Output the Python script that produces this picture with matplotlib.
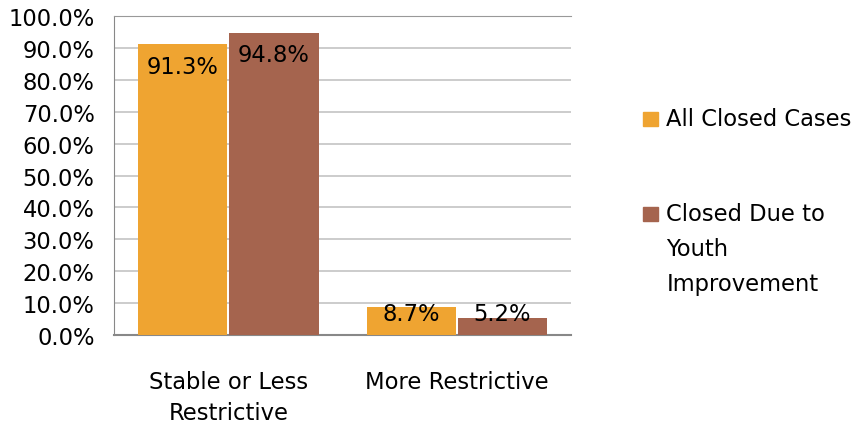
import matplotlib.pyplot as plt
from matplotlib.patches import Rectangle
import numpy as np

categories = ['Stable or Less\nRestrictive', 'More Restrictive']
series_names = ['All Closed Cases', 'Closed Due to\nYouth\nImprovement']
all_closed = [91.3, 8.7]
youth_improved = [94.8, 5.2]
colors = ['#EFA431', '#A5644E']

plt.rcParams['font.family'] = ['DejaVu Sans']
fs = 16.3

fig = plt.figure(figsize=(8.62, 4.27), dpi=100)
ax = fig.add_axes([0.1323, 0.2131, 0.5301, 0.7469])

x = np.arange(len(categories))
w = 0.39
gap = 0.005
for i, vals in enumerate([all_closed, youth_improved]):
    pos = x + (i - 0.5) * (w + 2 * gap)
    ax.bar(pos, vals, width=w, color=colors[i], zorder=3)
    for p, v in zip(pos, vals):
        ly = max(v - 7, 6.9)
        ax.text(p, ly, '%.1f%%' % v, ha='center', va='center', fontsize=fs, color='black', zorder=4)

ax.set_xlim(-0.5, 1.5)
ax.set_ylim(0, 100)
ax.set_yticks(np.arange(0, 101, 10))
ax.set_yticklabels(['%.1f%%' % t for t in np.arange(0, 101, 10)], fontsize=fs)
ax.set_xticks(x)
ax.set_xticklabels(categories, fontsize=fs, linespacing=1.45)
ax.tick_params(length=0)
ax.tick_params(axis='y', pad=14)
ax.tick_params(axis='x', pad=25)
ax.yaxis.grid(True, color='#c4c4c4', linewidth=1.2, zorder=0)
ax.spines['right'].set_visible(False)
ax.spines['top'].set_color('#999999')
ax.spines['left'].set_color('#888888')
ax.spines['bottom'].set_color('#888888')
ax.spines['bottom'].set_linewidth(1.5)

# legend drawn by hand so the swatch lines up with the first text line
legend_tops = [0.741, 0.518]
for name, c, top in zip(series_names, colors, legend_tops):
    fig.patches.append(Rectangle((0.746, top - 0.038), 0.0175, 0.033,
                                 transform=fig.transFigure, color=c))
    fig.text(0.773, top + 0.007, name, fontsize=fs, va='top', ha='left', linespacing=1.67)

fig.savefig('out.png', dpi=100)
